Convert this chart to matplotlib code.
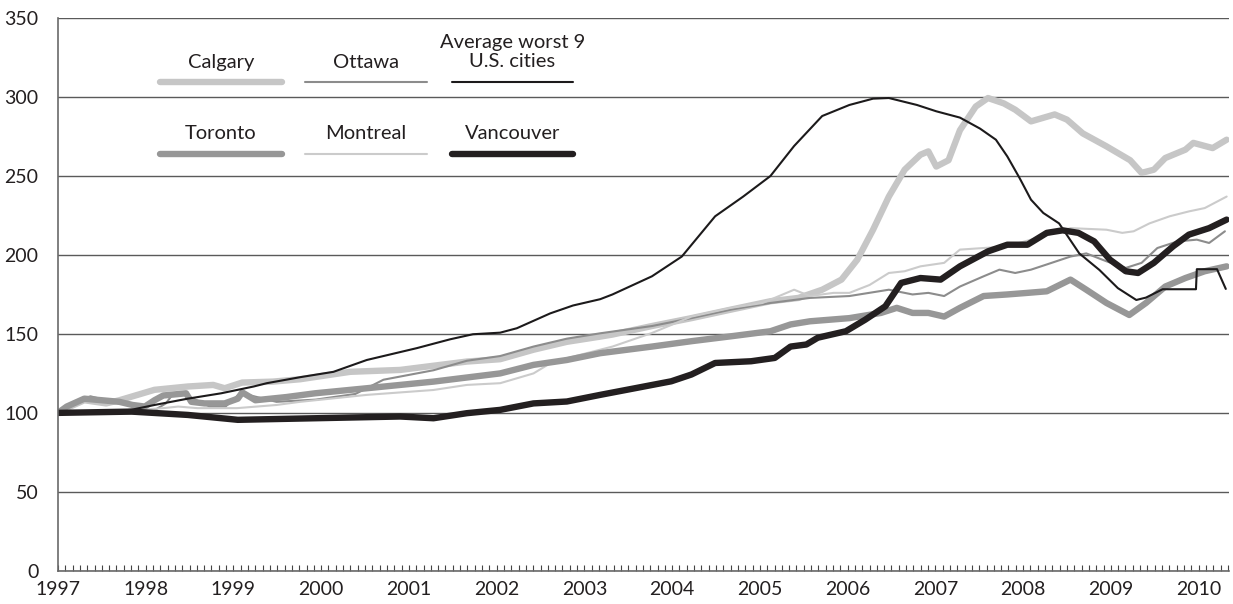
import matplotlib.pyplot as plt
from matplotlib.ticker import MultipleLocator

# values, (decimal year, index 1997 = 100)
us_years = [1997.0, 1997.5, 1997.84, 1998.1, 1998.48, 1998.86, 1999.23, 1999.38, 1999.76,
            2000.14, 2000.52, 2001.09, 2001.47, 2001.73, 2002.04, 2002.23, 2002.61, 2002.87,
            2003.18, 2003.32, 2003.77, 2004.11, 2004.49, 2004.81, 2005.12, 2005.39, 2005.71,
            2006.02, 2006.29, 2006.47, 2006.79, 2007.01, 2007.28, 2007.51, 2007.69, 2007.82,
            2007.96, 2008.09, 2008.23, 2008.41, 2008.64, 2008.87, 2009.08, 2009.29, 2009.4,
            2009.59, 2009.97, 2009.98, 2010.21, 2010.31]
us_vals = [100, 100.5, 102, 105, 109, 112.4, 116.7, 118.8, 122.6,
           126, 133.5, 141, 146.6, 149.8, 150.8, 153.6, 163, 168,
           172, 175, 186.5, 199, 224.5, 237, 250, 269, 288,
           295, 299, 299.4, 295, 291, 287, 280, 273, 262.4,
           248.7, 235, 226.6, 220, 201, 190.5, 179, 171.5, 173,
           178.3, 178.3, 191, 191, 178.5]

calgary_years = [1997.0, 1997.1, 1997.3, 1997.55, 1997.7, 1998.1, 1998.48, 1998.77, 1998.9,
                 1999.1, 1999.45, 1999.76, 2000.33, 2000.9, 2001.66, 2002.04, 2002.42, 2002.8,
                 2003.18, 2003.32, 2003.77, 2004.22, 2004.67, 2005.12, 2005.44, 2005.71, 2005.93,
                 2006.11, 2006.29, 2006.47, 2006.65, 2006.83, 2006.92, 2007.01, 2007.15, 2007.28,
                 2007.46, 2007.6, 2007.78, 2007.91, 2008.09, 2008.36, 2008.5, 2008.68, 2008.95,
                 2009.22, 2009.35, 2009.49, 2009.62, 2009.85, 2009.94, 2010.16, 2010.32]
calgary_vals = [100, 103, 108, 106, 108, 114.6, 116.7, 117.7, 115.6,
                119.2, 119.8, 121.3, 126, 127.2, 132.5, 134, 140, 145,
                148.3, 149.6, 155, 160, 165.4, 170.7, 172.8, 178, 184.4,
                197, 216, 237, 254, 263.5, 265.6, 256, 260, 279,
                294, 299.4, 296, 292, 284.6, 289, 285.7, 277, 268.8,
                260, 252, 254, 261.4, 266.7, 271, 267.7, 273]

toronto_years = [1997.0, 1997.1, 1997.3, 1997.5, 1997.7, 1997.85, 1997.99, 1998.1, 1998.2,
                 1998.46, 1998.52, 1998.67, 1998.9, 1999.05, 1999.1, 1999.25, 1999.6, 1999.93,
                 2000.52, 2001.28, 2002.04, 2002.42, 2002.8, 2003.18, 2003.77, 2004.22, 2004.67,
                 2005.12, 2005.35, 2005.57, 2006.02, 2006.38, 2006.56, 2006.74, 2006.92, 2007.1,
                 2007.28, 2007.55, 2007.82, 2008.05, 2008.27, 2008.54, 2008.72, 2008.95, 2009.21,
                 2009.4, 2009.62, 2009.85, 2010.07, 2010.32]
toronto_vals = [100, 104, 109, 108, 107, 105, 104, 108, 111,
                112.4, 107, 106, 106, 109, 113, 108, 110, 112.4,
                115.6, 119.8, 125, 130.4, 133.5, 137.8, 142, 145.4, 148.5,
                151.7, 156, 158, 160, 163.3, 166.5, 163.3, 163.3, 161,
                166.5, 174, 175, 176, 177, 184.4, 178, 169.6, 162,
                169.6, 180, 185.4, 189.7, 192.8]

ottawa_years = [1997.0, 1997.1, 1997.37, 1997.69, 1997.92, 1998.05, 1998.23, 1998.32, 1998.41,
                1998.73, 1998.91, 1999.08, 1999.49, 1999.94, 2000.39, 2000.71, 2001.28, 2001.66,
                2002.04, 2002.42, 2002.8, 2003.18, 2003.77, 2004.22, 2004.67, 2005.12, 2005.57,
                2006.02, 2006.47, 2006.74, 2006.92, 2007.1, 2007.28, 2007.55, 2007.73, 2007.91,
                2008.09, 2008.27, 2008.54, 2008.72, 2008.95, 2009.17, 2009.35, 2009.53, 2009.76,
                2009.98, 2010.12, 2010.3]
ottawa_vals = [100, 104, 110.5, 106, 105, 100, 106, 112.6, 112.6,
               104, 104, 112.6, 107, 108.4, 112, 121, 127, 133,
               136, 142, 147, 150.4, 155, 160, 165.4, 169.6, 172.8,
               174, 178, 175, 176, 174, 180, 186.5, 190.7, 188.6,
               190.7, 194, 199, 201, 196, 191.8, 195, 204.4, 208.6,
               209.7, 207.6, 215]

montreal_years = [1997.0, 1997.5, 1998.2, 1998.37, 1998.59, 1999.04, 1999.49, 1999.76, 2000.52,
                  2001.28, 2001.66, 2002.04, 2002.42, 2002.61, 2002.8, 2003.32, 2003.77, 2004.22,
                  2004.67, 2005.03, 2005.39, 2005.57, 2005.84, 2006.02, 2006.25, 2006.47, 2006.65,
                  2006.83, 2007.1, 2007.28, 2007.55, 2007.82, 2008.09, 2008.36, 2008.54, 2008.95,
                  2009.13, 2009.26, 2009.44, 2009.67, 2009.89, 2010.07, 2010.32]
montreal_vals = [100, 100, 103, 104, 103, 103, 105, 107, 111.4,
                 114.5, 117.7, 118.8, 125, 131.4, 134.6, 142, 150.6, 161,
                 166.5, 169.6, 178, 174, 176, 176, 181, 188.6, 189.7,
                 192.8, 195, 203.4, 204.4, 205.5, 209.7, 214, 217, 216,
                 214, 215, 220, 224.5, 227.6, 229.7, 237]

vancouver_years = [1997.0, 1997.84, 1998.48, 1999.05, 1999.93, 2000.9, 2001.28, 2001.66, 2002.04,
                   2002.42, 2002.8, 2003.18, 2003.99, 2004.22, 2004.49, 2004.9, 2005.17, 2005.35,
                   2005.53, 2005.66, 2005.98, 2006.2, 2006.43, 2006.61, 2006.83, 2007.06, 2007.28,
                   2007.6, 2007.82, 2008.05, 2008.27, 2008.45, 2008.63, 2008.81, 2008.99, 2009.17,
                   2009.31, 2009.49, 2009.71, 2009.89, 2010.12, 2010.32]
vancouver_vals = [100, 100.8, 98.7, 95.6, 96.6, 97.7, 96.6, 99.8, 101.9,
                  106, 107.2, 111.4, 120, 124.3, 131.6, 132.7, 134.8, 142,
                  143.3, 147.6, 151.7, 159, 167.5, 182.3, 185.4, 184.4, 192.8,
                  202.3, 206.5, 206.5, 214, 215.6, 214, 208.6, 197, 189.7,
                  188.6, 195, 205.5, 212.9, 217, 222.4]

series = [
    ('Calgary', calgary_years, calgary_vals, '#c6c6c6', 4.6),
    ('Ottawa', ottawa_years, ottawa_vals, '#8c8c8c', 1.5),
    ('Montreal', montreal_years, montreal_vals, '#cbcbcb', 1.5),
    ('Toronto', toronto_years, toronto_vals, '#979797', 4.6),
    ('Average worst 9\nU.S. cities', us_years, us_vals, '#1c1a1b', 1.5),
    ('Vancouver', vancouver_years, vancouver_vals, '#231f20', 4.6),
]

legend_order = ['Calgary', 'Ottawa', 'Average worst 9\nU.S. cities',
                'Toronto', 'Montreal', 'Vancouver']

plt.rcParams['font.family'] = ['Lato', 'DejaVu Sans']

fig = plt.figure(figsize=(12.33, 6.04), dpi=100)
ax = fig.add_axes([0.047, 0.055, 0.950, 0.915])

styles = {}
for name, xs, ys, color, lw in series:
    ax.plot(xs, ys, color=color, lw=lw, solid_capstyle='round', solid_joinstyle='round')
    styles[name] = (color, lw)

ax.set_xlim(1997.0, 2010.35)
ax.set_ylim(0, 350)
ax.yaxis.set_major_locator(MultipleLocator(50))
ax.xaxis.set_major_locator(MultipleLocator(1))
ax.xaxis.set_minor_locator(MultipleLocator(1 / 12))
ax.xaxis.set_major_formatter(lambda v, p: f'{int(round(v))}')
ax.grid(axis='y', color='#5a5a5a', lw=1.0)
ax.set_axisbelow(True)

for s in ['top', 'right']:
    ax.spines[s].set_visible(False)
for s in ['left', 'bottom']:
    ax.spines[s].set_color('#6a6a6a')
    ax.spines[s].set_linewidth(1.2)

ax.tick_params(axis='y', length=0, pad=14, labelsize=14, labelcolor='#231f20')
ax.tick_params(axis='x', which='both', direction='in', length=4, width=0.8,
               color='#444444', pad=7, labelsize=14, labelcolor='#231f20')

# legend drawn as a label above a short line sample
cols = [0.139, 0.263, 0.388]
half = 0.052
for i, name in enumerate(legend_order):
    cx = cols[i % 3]
    row_line = 0.884 if i < 3 else 0.754
    row_text = 0.920 if i < 3 else 0.792
    color, lw = styles[name]
    ax.plot([cx - half, cx + half], [row_line, row_line], transform=ax.transAxes,
            color=color, lw=lw, solid_capstyle='round', clip_on=False)
    ty = row_text + (0.019 if '\n' in name else 0)
    ax.text(cx, ty, name, transform=ax.transAxes, ha='center', va='center',
            fontsize=14.5, color='#231f20', linespacing=1.1)

fig.savefig('out.png', dpi=100)
